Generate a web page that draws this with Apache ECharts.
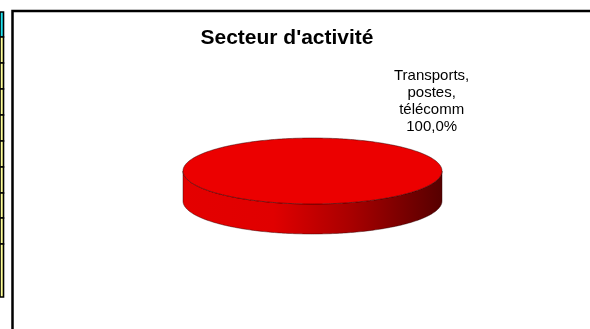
<!DOCTYPE html>
<html>
<head>
<meta charset="utf-8">
<script src="https://cdn.jsdelivr.net/npm/echarts@6/dist/echarts.min.js"></script>
<style>
html,body{margin:0;padding:0;background:#fff;}
#c{width:590px;height:329px;}
</style>
</head>
<body>
<div id="c"></div>
<script>
// ---- data ----
const categories = ['Transports,\npostes,\ntélécomm'];
const values = [100];
const chartTitle = "Secteur d'activité";

// ---- layout ----
const PIE = { cx: 312.5, cy: 171, rx: 129.5, ry: 33, depth: 30 };
const total = values.reduce((a, b) => a + b, 0);

function fmtPct(v) {
  return (v / total * 100).toFixed(1).replace('.', ',') + '%';
}

function ellPt(t, dy) {
  return [PIE.cx + PIE.rx * Math.cos(t), PIE.cy + (dy || 0) + PIE.ry * Math.sin(t)];
}

function arcPts(a, b, dy) {
  const pts = [];
  const n = Math.max(8, Math.ceil(Math.abs(b - a) / (Math.PI / 180)));
  for (let i = 0; i <= n; i++) pts.push(ellPt(a + (b - a) * i / n, dy));
  return pts;
}

function renderItem(params, api) {
  const idx = params.dataIndex;
  const v = api.value(0);
  let before = 0;
  for (let i = 0; i < idx; i++) before += values[i];
  const t0 = -Math.PI / 2 + before / total * Math.PI * 2;
  const t1 = t0 + v / total * Math.PI * 2;
  const full = v / total >= 0.9999;
  const children = [];

  for (let k = -1; k <= 1; k++) {
    const lo = Math.max(t0, k * 2 * Math.PI);
    const hi = Math.min(t1, k * 2 * Math.PI + Math.PI);
    if (hi > lo) {
      const top = arcPts(lo, hi, 0);
      const bot = arcPts(hi, lo, PIE.depth);
      children.push({
        type: 'polygon',
        shape: { points: top.concat(bot) },
        style: {
          fill: new echarts.graphic.LinearGradient(0, 0, 1, 0, [
            { offset: 0, color: '#e40000' },
            { offset: 0.35, color: '#e00000' },
            { offset: 0.65, color: '#a80000' },
            { offset: 1, color: '#560000' }
          ]),
          stroke: 'rgba(40,0,0,0.55)',
          lineWidth: 0.8
        }
      });
    }
  }

  let facePts = arcPts(t0, t1, 0);
  if (!full) facePts = [[PIE.cx, PIE.cy]].concat(facePts);
  children.push({
    type: 'polygon',
    shape: { points: facePts },
    style: { fill: '#ec0000', stroke: 'rgba(40,0,0,0.6)', lineWidth: 0.8 }
  });

  const mid = (t0 + t1) / 2;
  const lx = full ? PIE.cx + PIE.rx * 0.92 : PIE.cx + PIE.rx * 1.25 * Math.cos(mid);
  const ly = full ? PIE.cy - PIE.ry - 37 : PIE.cy + PIE.ry * 1.6 * Math.sin(mid);
  children.push({
    type: 'text',
    style: {
      text: categories[idx] + '\n' + fmtPct(v),
      x: lx,
      y: ly,
      align: 'center',
      verticalAlign: 'middle',
      fill: '#000',
      font: '15px "Liberation Sans", Arial, sans-serif',
      lineHeight: 17
    }
  });

  return { type: 'group', children: children };
}

const chart = echarts.init(document.getElementById('c'), null, { renderer: 'canvas' });

const cellEdges = [12, 37, 63, 89, 115, 141, 167, 193, 218, 244, 297];
const graphics = [];
for (let i = 0; i < cellEdges.length - 1; i++) {
  graphics.push({
    type: 'rect',
    shape: { x: 0, y: cellEdges[i], width: 3.5, height: cellEdges[i + 1] - cellEdges[i] },
    style: { fill: i === 0 ? '#20e4f0' : '#ffff99', stroke: '#000', lineWidth: 1.6 },
    silent: true
  });
}
graphics.push({
  type: 'polyline',
  shape: { points: [[12.5, 329], [12.5, 11], [590, 11]] },
  style: { stroke: '#000', lineWidth: 2.5, fill: null },
  silent: true
});

chart.setOption({
  backgroundColor: '#fff',
  animation: false,
  title: {
    text: chartTitle,
    left: 282,
    top: 23,
    textAlign: 'center',
    textStyle: {
      fontSize: 21,
      fontWeight: 'bold',
      color: '#000',
      fontFamily: '"Liberation Sans", Arial, sans-serif'
    }
  },
  graphic: graphics,
  series: [{
    type: 'custom',
    coordinateSystem: 'none',
    renderItem: renderItem,
    data: values.map(v => [v])
  }]
});
</script>
</body>
</html>
